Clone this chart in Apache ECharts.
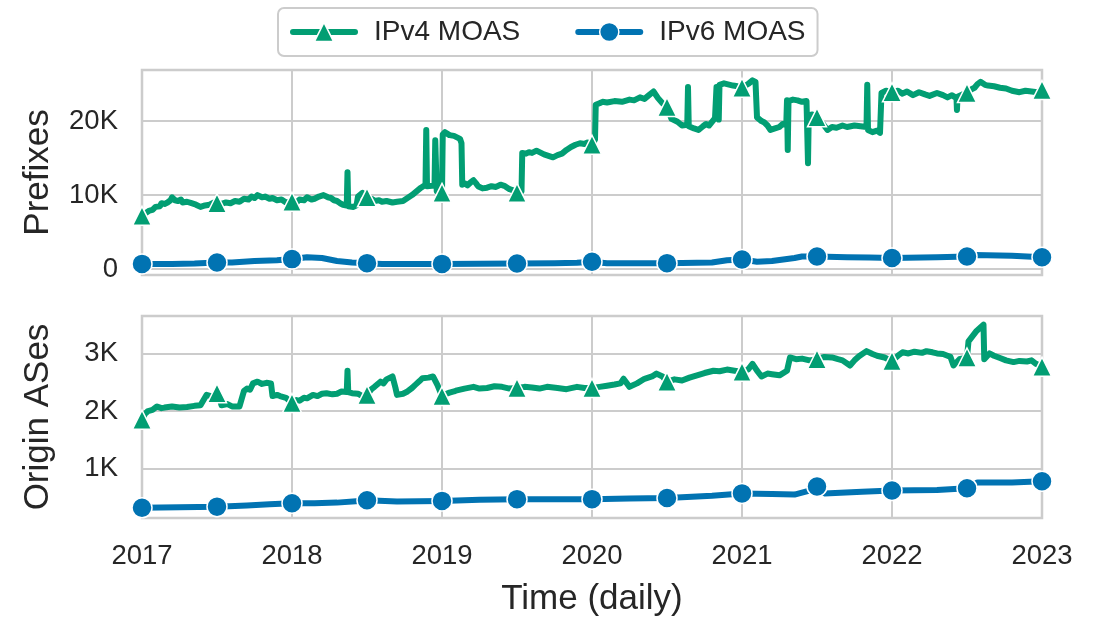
<!DOCTYPE html>
<html>
<head>
<meta charset="utf-8">
<script src="https://cdn.jsdelivr.net/npm/echarts@6/dist/echarts.min.js"></script>
<style>
html,body{margin:0;padding:0;background:#fff;}
#chart{width:1097px;height:618px;}
</style>
</head>
<body>
<div id="chart"></div>
<script>
// ---- data: [decimal year, value] ----
const seriesNames = ['IPv4 MOAS', 'IPv6 MOAS'];
const xTickYears = [2017, 2018, 2019, 2020, 2021, 2022, 2023];

const v4Prefixes = [
  [2017.0,7200],[2017.02,7500],[2017.03,7300],[2017.05,7900],[2017.07,8000],[2017.09,8400],[2017.1,8600],
  [2017.12,8500],[2017.13,8900],[2017.15,8800],[2017.17,9000],[2017.19,9300],[2017.2,9700],[2017.22,9300],
  [2017.24,9200],[2017.26,9400],[2017.27,9000],[2017.3,9100],[2017.33,8900],[2017.36,8700],[2017.39,8400],
  [2017.42,8600],[2017.45,8700],[2017.48,9000],[2017.5,8900],[2017.53,8800],[2017.56,9000],[2017.59,8900],
  [2017.62,9200],[2017.65,9100],[2017.68,9500],[2017.71,9400],[2017.73,9800],[2017.75,9600],[2017.77,10000],
  [2017.8,9700],[2017.82,9800],[2017.85,9500],[2017.87,9600],[2017.9,9300],[2017.93,9400],[2017.96,9000],
  [2018.0,9100],[2018.03,9000],[2018.05,9400],[2018.08,9300],[2018.1,9700],[2018.13,9400],[2018.15,9500],
  [2018.18,9800],[2018.21,10000],[2018.24,9700],[2018.26,9600],[2018.28,9300],[2018.3,9200],[2018.32,8900],
  [2018.34,8700],[2018.365,8600],[2018.37,13100],[2018.375,8500],[2018.41,8400],[2018.43,8600],[2018.44,9800],
  [2018.47,10300],[2018.5,9700],[2018.53,9500],[2018.55,9200],[2018.58,9300],[2018.6,9100],[2018.63,9200],
  [2018.67,9000],[2018.7,9100],[2018.74,9200],[2018.77,9600],[2018.8,10000],[2018.83,10500],[2018.86,11000],
  [2018.89,11400],[2018.895,18800],[2018.9,11200],[2018.95,11300],[2018.955,17400],[2018.965,10500],
  [2019.0,10300],[2019.005,18200],[2019.02,18500],[2019.05,18100],[2019.08,18000],[2019.1,17800],
  [2019.12,17600],[2019.13,17000],[2019.135,11400],[2019.15,11600],[2019.17,11300],[2019.19,11700],
  [2019.21,12000],[2019.23,11500],[2019.24,11200],[2019.27,10900],[2019.3,11000],[2019.33,11200],
  [2019.36,11100],[2019.39,11400],[2019.42,11200],[2019.45,10800],[2019.48,10600],[2019.5,10300],
  [2019.53,10500],[2019.535,15700],[2019.56,15600],[2019.58,15800],[2019.6,15700],[2019.63,16000],
  [2019.66,15700],[2019.68,15500],[2019.71,15300],[2019.74,15100],[2019.77,15400],[2019.8,15600],
  [2019.83,16100],[2019.86,16500],[2019.89,16800],[2019.92,17000],[2019.95,16900],[2019.97,17100],
  [2020.0,16800],[2020.02,17500],[2020.025,22200],[2020.05,22400],[2020.07,22600],[2020.1,22500],
  [2020.15,22700],[2020.2,22600],[2020.25,22900],[2020.28,22800],[2020.32,23200],[2020.35,23000],
  [2020.38,23500],[2020.41,24000],[2020.44,23100],[2020.47,22400],[2020.5,21900],[2020.53,20300],
  [2020.57,19900],[2020.6,19400],[2020.635,19500],[2020.64,24600],[2020.645,19300],[2020.68,19000],
  [2020.71,18800],[2020.74,19300],[2020.76,19600],[2020.78,19400],[2020.8,19900],[2020.82,20400],
  [2020.83,24600],[2020.845,20200],[2020.85,24900],[2020.88,25100],[2020.9,25000],[2020.94,24800],
  [2020.97,24700],[2021.0,24500],[2021.04,25000],[2021.07,25500],[2021.09,25300],[2021.1,20500],
  [2021.13,20000],[2021.15,19800],[2021.17,19400],[2021.19,18800],[2021.22,19000],[2021.25,19200],
  [2021.27,19600],[2021.295,19500],[2021.3,22800],[2021.305,16100],[2021.31,22700],[2021.34,22900],
  [2021.37,22800],[2021.4,22600],[2021.43,22700],[2021.44,14300],[2021.445,20800],[2021.47,20900],
  [2021.5,20500],[2021.54,19600],[2021.57,18800],[2021.6,19200],[2021.63,19100],[2021.67,19400],
  [2021.7,19200],[2021.75,19400],[2021.79,19300],[2021.83,19200],[2021.835,24900],[2021.84,18800],
  [2021.87,18500],[2021.9,18700],[2021.92,18400],[2021.93,23800],[2021.96,24100],[2022.0,23900],
  [2022.04,24100],[2022.07,23700],[2022.1,24000],[2022.14,23500],[2022.18,23900],[2022.22,23600],
  [2022.25,23400],[2022.3,23800],[2022.34,23500],[2022.37,23200],[2022.4,23500],[2022.43,23100],
  [2022.433,21500],[2022.437,23300],[2022.47,23600],[2022.5,23800],[2022.53,24300],[2022.55,24500],
  [2022.57,25000],[2022.59,25300],[2022.62,24900],[2022.64,24800],[2022.68,24700],[2022.72,24500],
  [2022.76,24400],[2022.8,24100],[2022.85,23900],[2022.89,24100],[2022.93,24000],[2022.97,23900],
  [2023.0,24200]
];

const v6Prefixes = [
  [2017.0,700],[2017.2,700],[2017.35,750],[2017.5,900],[2017.6,900],[2017.75,1100],[2017.9,1200],
  [2018.0,1350],[2018.1,1600],[2018.2,1500],[2018.3,1100],[2018.4,900],[2018.5,800],[2018.6,700],
  [2018.8,700],[2019.0,700],[2019.25,720],[2019.5,750],[2019.75,800],[2019.9,850],[2020.0,1000],
  [2020.1,800],[2020.3,780],[2020.5,800],[2020.7,850],[2020.8,900],[2020.9,1200],[2021.0,1300],
  [2021.1,1000],[2021.2,1100],[2021.35,1500],[2021.4,1700],[2021.5,1700],[2021.7,1600],[2021.85,1550],
  [2022.0,1500],[2022.3,1600],[2022.5,1700],[2022.55,1900],[2022.8,1800],[2023.0,1600]
];

const v4Origins = [
  [2017.0,1850],[2017.02,1950],[2017.04,2000],[2017.05,1980],[2017.07,2020],[2017.1,2080],[2017.13,2050],
  [2017.15,2060],[2017.2,2080],[2017.25,2060],[2017.3,2070],[2017.35,2090],[2017.39,2100],[2017.43,2280],
  [2017.47,2250],[2017.5,2310],[2017.52,2200],[2017.53,2100],[2017.57,2120],[2017.6,2080],[2017.65,2080],
  [2017.68,2350],[2017.7,2390],[2017.72,2370],[2017.74,2480],[2017.77,2510],[2017.8,2470],[2017.83,2490],
  [2017.86,2480],[2017.87,2260],[2017.9,2280],[2017.92,2260],[2017.96,2230],[2018.0,2140],[2018.03,2190],
  [2018.05,2180],[2018.08,2230],[2018.1,2220],[2018.14,2280],[2018.17,2260],[2018.2,2300],[2018.23,2310],
  [2018.27,2290],[2018.3,2300],[2018.33,2340],[2018.365,2330],[2018.37,2700],[2018.375,2330],[2018.4,2310],
  [2018.44,2300],[2018.47,2260],[2018.5,2280],[2018.53,2380],[2018.55,2420],[2018.59,2510],[2018.61,2480],
  [2018.63,2550],[2018.67,2600],[2018.69,2400],[2018.7,2280],[2018.74,2300],[2018.77,2340],[2018.8,2400],
  [2018.82,2450],[2018.85,2520],[2018.87,2570],[2018.91,2580],[2018.94,2600],[2018.97,2450],[2019.0,2260],
  [2019.03,2300],[2019.05,2320],[2019.08,2340],[2019.1,2360],[2019.15,2390],[2019.21,2420],[2019.25,2390],
  [2019.3,2400],[2019.35,2430],[2019.4,2420],[2019.45,2390],[2019.5,2400],[2019.55,2420],[2019.6,2410],
  [2019.65,2390],[2019.7,2420],[2019.77,2400],[2019.83,2380],[2019.9,2420],[2019.95,2400],[2020.0,2400],
  [2020.05,2420],[2020.1,2440],[2020.15,2460],[2020.19,2480],[2020.21,2560],[2020.25,2420],[2020.3,2480],
  [2020.35,2560],[2020.4,2600],[2020.43,2650],[2020.47,2600],[2020.5,2510],[2020.55,2550],[2020.6,2530],
  [2020.65,2580],[2020.7,2620],[2020.75,2660],[2020.81,2700],[2020.85,2690],[2020.9,2720],[2020.95,2700],
  [2021.0,2680],[2021.04,2720],[2021.07,2820],[2021.1,2700],[2021.13,2600],[2021.17,2650],[2021.2,2640],
  [2021.25,2620],[2021.3,2700],[2021.32,2930],[2021.36,2900],[2021.4,2910],[2021.45,2880],[2021.5,2900],
  [2021.55,2940],[2021.6,2930],[2021.64,2900],[2021.67,2880],[2021.72,2790],[2021.75,2880],[2021.78,2950],
  [2021.83,3040],[2021.87,2990],[2021.9,2960],[2021.95,2930],[2022.0,2870],[2022.04,2960],[2022.07,3020],
  [2022.11,3000],[2022.15,3030],[2022.2,3010],[2022.23,3040],[2022.27,3020],[2022.3,3000],[2022.34,2990],
  [2022.37,2960],[2022.39,2940],[2022.41,2790],[2022.45,2900],[2022.5,2930],[2022.51,3210],[2022.56,3380],
  [2022.61,3500],[2022.615,2900],[2022.65,3000],[2022.68,2960],[2022.72,2920],[2022.76,2880],[2022.81,2850],
  [2022.85,2870],[2022.9,2860],[2022.93,2880],[2022.96,2820],[2023.0,2770]
];

const v6Origins = [
  [2017.0,320],[2017.25,330],[2017.5,340],[2017.7,360],[2017.85,380],[2018.0,400],[2018.15,400],
  [2018.3,410],[2018.45,440],[2018.5,450],[2018.7,430],[2019.0,440],[2019.25,460],[2019.5,470],
  [2019.75,470],[2020.0,470],[2020.25,480],[2020.5,490],[2020.8,530],[2021.0,570],[2021.2,560],
  [2021.35,550],[2021.45,620],[2021.5,690],[2021.55,570],[2021.8,600],[2022.0,620],[2022.3,630],
  [2022.5,660],[2022.57,760],[2022.8,760],[2023.0,780]
];

// ---- styling ----
const FONT = 'Liberation Sans, Arial, sans-serif';
const TXT = '#262626';
const GRIDC = '#cccccc';
const GREEN = '#029e73';
const BLUE = '#0173b2';

function withMarkers(arr) {
  return arr.map(function (p) {
    const isMarker = Math.abs(p[0] * 2 - Math.round(p[0] * 2)) < 1e-9;
    return isMarker ? { value: p } : { value: p, symbol: 'none' };
  });
}

function kFmt(v) {
  if (v === 0) return '0';
  return (v / 1000) + 'K';
}

function xAxisCfg(idx, showLabels) {
  const cfg = {
    type: 'value', gridIndex: idx, min: xTickYears[0], max: xTickYears[xTickYears.length - 1], interval: 1,
    axisLine: { show: false }, axisTick: { show: false },
    splitLine: { show: true, lineStyle: { color: GRIDC, width: 2 } },
    axisLabel: { show: showLabels, fontSize: 27.5, color: TXT, fontFamily: FONT, margin: 24,
      formatter: function (v) { return String(v); } }
  };
  if (showLabels) {
    cfg.name = 'Time (daily)';
    cfg.nameLocation = 'middle';
    cfg.nameGap = 64;
    cfg.nameTextStyle = { fontSize: 35, color: TXT, fontFamily: FONT };
  }
  return cfg;
}

function yAxisCfg(idx, name, min, max, step) {
  return {
    type: 'value', gridIndex: idx, min: min, max: max, splitNumber: 3,
    name: name, nameLocation: 'middle', nameGap: 86,
    nameTextStyle: { fontSize: 35, color: TXT, fontFamily: FONT },
    axisLine: { show: false }, axisTick: { show: false },
    splitLine: { show: true, lineStyle: { color: GRIDC, width: 2 } },
    axisLabel: { fontSize: 27.5, color: TXT, fontFamily: FONT, margin: 24,
      formatter: function (v) { return (Math.abs(v % step) > 1e-6) ? '' : kFmt(v); } }
  };
}

function lineSeries(name, data, xi, yi, color, symbol, size) {
  return {
    name: name, type: 'line', xAxisIndex: xi, yAxisIndex: yi,
    data: withMarkers(data), symbol: symbol, symbolSize: size, showSymbol: true,
    lineStyle: { color: color, width: 6, join: 'round', cap: 'round' },
    itemStyle: { color: color, borderColor: '#ffffff', borderWidth: 1.5 },
    emphasis: { disabled: true }, clip: true
  };
}

const chart = echarts.init(document.getElementById('chart'), null, { renderer: 'canvas' });
chart.setOption({
  animation: false,
  backgroundColor: '#ffffff',
  textStyle: { fontFamily: FONT, color: TXT },
  legend: {
    data: seriesNames, left: 278, top: 8, padding: [10, 12], itemGap: 55,
    itemWidth: 62, itemHeight: 24,
    borderColor: GRIDC, borderWidth: 2, borderRadius: 6,
    lineStyle: { width: 6 },
    itemStyle: { borderColor: '#ffffff', borderWidth: 1.5 },
    textStyle: { fontSize: 28, color: TXT, fontFamily: FONT, padding: [0, 0, 0, 14] }
  },
  grid: [
    { left: 142, top: 70, width: 900, height: 205, show: true, borderColor: GRIDC, borderWidth: 2.5, backgroundColor: '#fff' },
    { left: 142, top: 316, width: 900, height: 206, show: true, borderColor: GRIDC, borderWidth: 2.5, backgroundColor: '#fff' }
  ],
  xAxis: [xAxisCfg(0, false), xAxisCfg(1, true)],
  yAxis: [
    yAxisCfg(0, 'Prefixes', -800, 26900, 10000),
    yAxisCfg(1, 'Origin ASes', 143, 3650, 1000)
  ],
  series: [
    lineSeries(seriesNames[1], v6Prefixes, 0, 0, BLUE, 'circle', 20),
    lineSeries(seriesNames[0], v4Prefixes, 0, 0, GREEN, 'triangle', 19),
    lineSeries(seriesNames[1], v6Origins, 1, 1, BLUE, 'circle', 20),
    lineSeries(seriesNames[0], v4Origins, 1, 1, GREEN, 'triangle', 19)
  ]
});
</script>
</body>
</html>
